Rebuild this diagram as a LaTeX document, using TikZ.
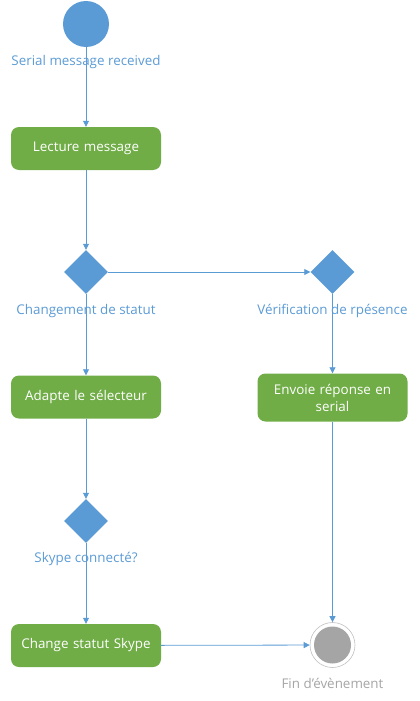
\documentclass[tikz,border=0pt]{standalone}
\usepackage{fontspec}
\setmainfont{Open Sans}
\usetikzlibrary{shapes.geometric,arrows.meta}
\definecolor{oblue}{HTML}{5B9BD5}
\definecolor{ogreen}{HTML}{70AD47}
\definecolor{ogray}{HTML}{A5A5A5}
\begin{document}
\begin{tikzpicture}[x=1pt,y=-1pt,
  every node/.style={font=\fontsize{13.4}{17}\selectfont},
  actbox/.style={rectangle,rounded corners=8pt,fill=ogreen,text=white,minimum width=150pt,minimum height=43pt,inner sep=2pt,align=center,text width=140pt},
  decis/.style={diamond,fill=oblue,minimum width=44pt,minimum height=44pt,inner sep=0pt},
  lbl/.style={text=oblue,inner sep=0pt},
  conn/.style={draw=oblue,line width=0.8pt,-{Triangle[length=6pt,width=6pt]}}]
\useasboundingbox (0,0) rectangle (420,701);
\node[circle,fill=oblue,minimum size=46pt,inner sep=0pt] (start) at (86,24) {};
\node[lbl] (startlbl) at (86,62) {Serial message received};
\node[actbox] (lecture) at (86,148.5) {Lecture message};
\node[decis] (d1) at (86,272) {};
\node[lbl] (d1lbl) at (86,311) {Changement de statut};
\node[decis] (d2) at (332.5,272) {};
\node[lbl] (d2lbl) at (332.5,311) {Vérification de rpésence};
\node[actbox] (adapte) at (86,397) {Adapte le sélecteur};
\node[actbox,minimum height=48pt] (envoie) at (332.5,397.5) {Envoie réponse en\\serial};
\node[decis] (d3) at (86,521) {};
\node[lbl] (d3lbl) at (86,559) {Skype connecté?};
\node[actbox] (change) at (86,645.5) {Change statut Skype};
\node[circle,draw=ogray!70,line width=0.6pt,fill=white,minimum size=45pt,inner sep=0pt] (fin) at (332.5,645) {};
\node[circle,fill=ogray,minimum size=37pt,inner sep=0pt] (fininner) at (332.5,645) {};
\node[text=ogray,inner sep=0pt] (finlbl) at (332.5,683) {Fin d'évènement};
\draw[conn] (start) -- (lecture);
\draw[conn] (lecture) -- (d1);
\draw[conn] (d1) -- (d2);
\draw[conn] (d1) -- (adapte);
\draw[conn] (d2) -- (envoie);
\draw[conn] (adapte) -- (d3);
\draw[conn] (d3) -- (change);
\draw[conn] (envoie) -- (fin);
\draw[conn] (change) -- (fin);
\end{tikzpicture}
\end{document}
